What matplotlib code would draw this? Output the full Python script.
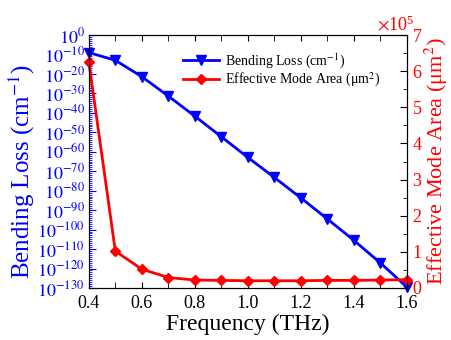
import matplotlib
matplotlib.use("Agg")
import matplotlib.pyplot as plt
import matplotlib.ticker as mticker
import numpy as np

plt.rcParams['font.family'] = ['Liberation Serif', 'DejaVu Serif']
plt.rcParams['mathtext.fontset'] = 'stix'

freq = [0.4, 0.5, 0.6, 0.7, 0.8, 0.9, 1.0, 1.1, 1.2, 1.3, 1.4, 1.5, 1.6]
# bending loss exponents (cm^-1)
loss_exp = [-9, -13, -21.4, -31.4, -41.7, -52.3, -62.9, -73.2, -83.7, -94.5, -105.5, -117.1, -129.5]
bending_loss = [10.0 ** e for e in loss_exp]
mode_area = [6.25e5, 1.02e5, 0.52e5, 0.29e5, 0.22e5, 0.21e5, 0.2e5, 0.2e5, 0.2e5, 0.21e5, 0.21e5, 0.22e5, 0.23e5]

blue = '#0000ff'
red = '#ff0000'

fig = plt.figure(figsize=(4.51, 3.40), dpi=100)
ax = fig.add_axes([0.197, 0.153, 0.705, 0.744])
ax2 = ax.twinx()

l1, = ax.plot(freq, bending_loss, '-v', color=blue, lw=2, ms=7, label='Bending Loss (cm$^{-1}$)', clip_on=False)
l2, = ax2.plot(freq, mode_area, '-D', color=red, lw=2, ms=5, label='Effective Mode Area (μm$^{2}$)', clip_on=False)

ax.set_yscale('log')
ax.set_ylim(1e-130, 1e0)
ax.set_xlim(0.4, 1.6)
ax.yaxis.set_major_locator(mticker.FixedLocator(10.0 ** np.arange(-130, 1, 10)))
ax.yaxis.set_minor_locator(mticker.FixedLocator(10.0 ** np.arange(-130, 1, 1)))
ax.yaxis.set_major_formatter(mticker.FuncFormatter(lambda v, p: r'$10^{%d}$' % round(np.log10(v))))
ax.yaxis.set_minor_formatter(mticker.NullFormatter())

ax.xaxis.set_major_locator(mticker.MultipleLocator(0.2))
ax.xaxis.set_minor_locator(mticker.MultipleLocator(0.1))
ax.xaxis.set_major_formatter(mticker.FormatStrFormatter('%.1f'))

ax.tick_params(axis='x', which='both', direction='in', top=True, labelsize=13, length=4, pad=5)
ax.tick_params(axis='y', which='major', direction='in', colors=blue, labelsize=13, length=5, pad=3)
ax.tick_params(axis='y', which='minor', direction='in', colors=blue, length=2.5)
ax.spines['left'].set_color(blue)

ax2.set_ylim(0, 7e5)
ax2.yaxis.set_major_locator(mticker.MultipleLocator(1e5))
ax2.yaxis.set_minor_locator(mticker.MultipleLocator(0.5e5))
fmt = mticker.ScalarFormatter(useMathText=True)
fmt.set_powerlimits((0, 0))
ax2.yaxis.set_major_formatter(fmt)
off = ax2.yaxis.get_offset_text()
off.set_color(red)
off.set_fontsize(13)
off.set_horizontalalignment('center')
off.set_x(0.965)
ax2.tick_params(axis='y', which='major', direction='in', labelcolor=red, labelsize=13, length=5, pad=4)
ax2.tick_params(axis='y', which='minor', direction='in', length=3)

ax.set_xlabel('Frequency (THz)', fontsize=17, labelpad=1)
ax.set_ylabel('Bending Loss (cm$^{-1}$)', fontsize=18, color=blue)
ax.yaxis.set_label_coords(-0.163, 0.462)
ax2.set_ylabel('Effective Mode Area (μm$^{2}$)', fontsize=16, color=red)
ax2.yaxis.set_label_coords(1.05, 0.5)

ax2.legend(handles=[l1, l2], loc='upper right', bbox_to_anchor=(0.955, 0.985), frameon=False,
           fontsize=10, handlelength=2.6, handletextpad=0.4, labelspacing=0.05)

fig.savefig('out.png', dpi=100)
